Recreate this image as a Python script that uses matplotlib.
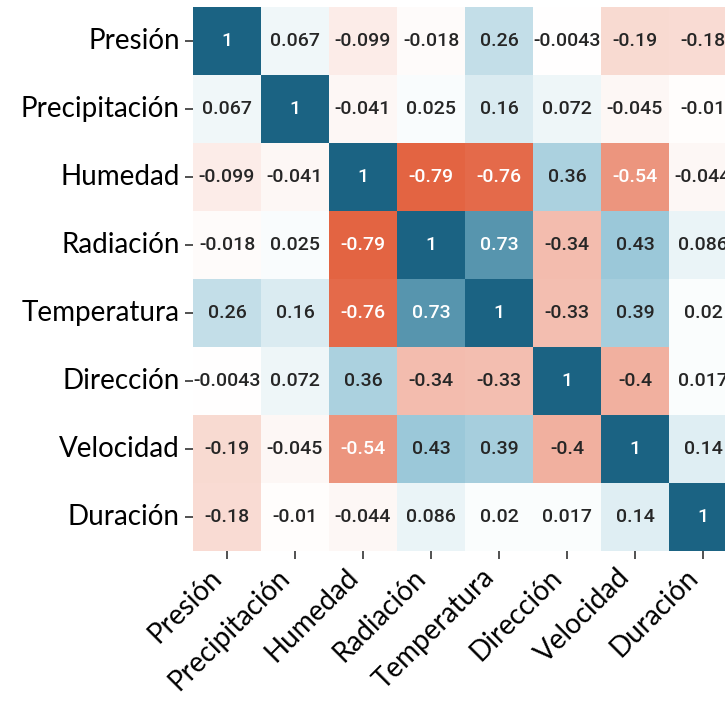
import matplotlib
matplotlib.use("Agg")
import matplotlib.pyplot as plt
from matplotlib.colors import LinearSegmentedColormap
import pandas as pd
import seaborn as sns

variables = ["Presión", "Precipitación", "Humedad", "Radiación",
             "Temperatura", "Dirección", "Velocidad", "Duración"]

presion = [1, 0.067, -0.099, -0.018, 0.26, -0.0043, -0.19, -0.18]
precipitacion = [0.067, 1, -0.041, 0.025, 0.16, 0.072, -0.045, -0.01]
humedad = [-0.099, -0.041, 1, -0.79, -0.76, 0.36, -0.54, -0.044]
radiacion = [-0.018, 0.025, -0.79, 1, 0.73, -0.34, 0.43, 0.086]
temperatura = [0.26, 0.16, -0.76, 0.73, 1, -0.33, 0.39, 0.02]
direccion = [-0.0043, 0.072, 0.36, -0.34, -0.33, 1, -0.4, 0.017]
velocidad = [-0.19, -0.045, -0.54, 0.43, 0.39, -0.4, 1, 0.14]
duracion = [-0.18, -0.01, -0.044, 0.086, 0.02, 0.017, 0.14, 1]

corr = pd.DataFrame([presion, precipitacion, humedad, radiacion,
                     temperatura, direccion, velocidad, duracion],
                    index=variables, columns=variables)

# red for negative, white at zero, dark teal for positive
cmap = LinearSegmentedColormap.from_list(
    "corr", [(0.0, "#dc3c12"), (0.5, "#ffffff"), (0.75, "#8cc0d3"), (1.0, "#1b6383")])

fig = plt.figure(figsize=(7.25, 7.03), dpi=100)
ax = fig.add_axes([193 / 725, (703 - 551) / 703, 544 / 725, 544 / 703])

sns.heatmap(corr, ax=ax, cmap=cmap, vmin=-1, vmax=1, center=0,
            annot=True, fmt=".2g", cbar=False,
            annot_kws={"fontsize": 14, "fontweight": "medium",
                       "family": ["Roboto", "DejaVu Sans"]})

ax.tick_params(axis="both", length=6, width=1.2, color="#333333")
ax.set_yticklabels(variables, rotation=0, fontsize=20, family="Lato")
ax.set_xticklabels(variables, rotation=45, ha="right", fontsize=20, family="Lato")

fig.savefig("out.png", dpi=100)
